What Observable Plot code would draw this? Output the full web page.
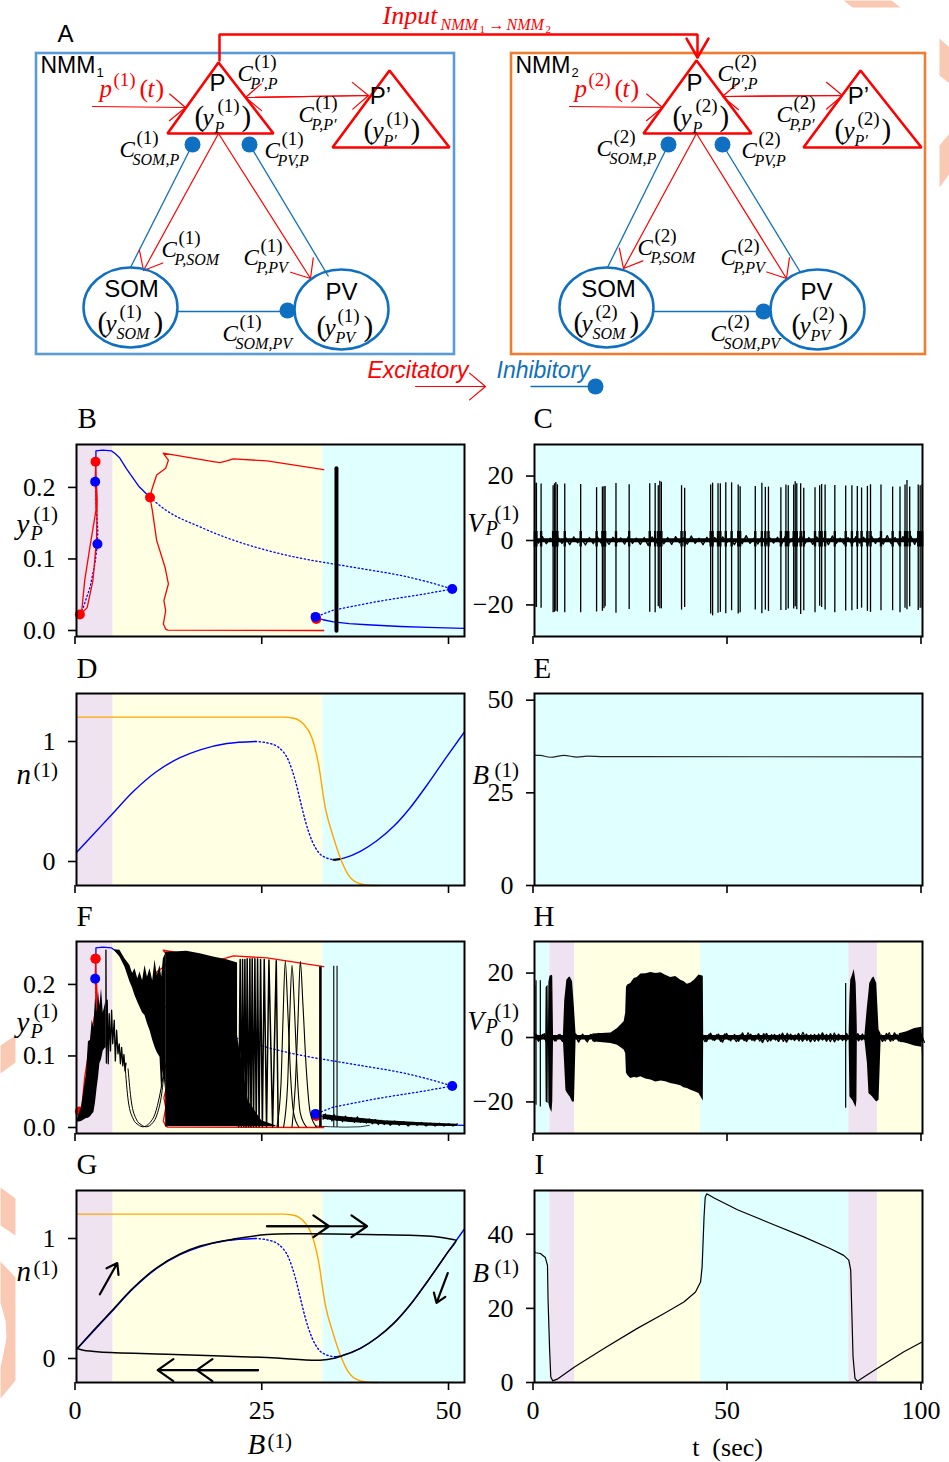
<!DOCTYPE html>
<html>
<head>
<meta charset="utf-8">
<script src="https://cdn.jsdelivr.net/npm/d3@7"></script>
<script src="https://cdn.jsdelivr.net/npm/@observablehq/plot@0.6"></script>
<style>
html,body{margin:0;padding:0;background:#fff}
#root{position:relative;width:949px;height:1462px;overflow:hidden}
#root svg{position:absolute;max-width:none}
</style>
</head>
<body>
<div id="root"></div>
<script>
// ---------- colours
const PURPLE="#efe3f2", YELLOW="#ffffe4", CYAN="#e0ffff", RED="#ff0000", BLUE="#0000ff", ORANGE="#ffa500", DBLUE="#0f6fc0", SALMON="#f9c9b3";

// ---------- bifurcation panels (B, F): [B, y]
const regimeBands=[[0,4.9,PURPLE],[4.9,33,YELLOW],[33,51.94,CYAN]];
const timeBands=[[0,3.95,CYAN],[3.95,10.4,PURPLE],[10.4,42.8,YELLOW],[42.8,81,CYAN],[81,88.4,PURPLE],[88.4,100,YELLOW]];
const yStableHigh=[[2.5,.208],[2.6,.24],[2.6,.251],[3.5,.252],[4.7,.251],[5.2,.247],[5.8,.241],[6.7,.226],[8.3,.202],[9.84,.186]];
const yUnstableHigh=[[9.84,.186],[12,.168],[16.5,.145],[20,.13],[25.5,.112],[30,.101],[34.4,.093],[39,.085],[43.4,.077],[47,.068],[50.3,.058]];
const yUnstableLow=[[50.3,.058],[46,.05],[41.1,.042],[37,.034],[34.4,.0286],[32,.019]];
const yStableLow=[[32,.019],[33,.015],[34.4,.012],[36.5,.0095],[38.9,.008],[43.4,.0056],[47,.0043],[51.9,.003]];
const yUnstableLeft=[[.45,.0225],[.9,.032],[1.8,.06],[2.46,.093],[2.8,.121],[2.85,.14],[2.7,.163],[2.5,.208]];
const yCycleSmall=[[.45,.0225],[.67,.024],[1.1,.07],[1.8,.117],[2.6,.168],[2.55,.236],[2.77,.182],[2.68,.126],[2.2,.07],[1.43,.032],[.67,.024]];
const yCycleLarge=[[33.1,.225],[25.5,.237],[21,.24],[20.1,.237],[19.2,.2346],[18.3,.236],[11.6,.248],[12.3,.238],[11.94,.2267],[10.73,.2173],[10.06,.196],[9.84,.186],[10.15,.168],[10.73,.126],[11.85,.0885],[12.3,.065],[11.7,.0417],[11.94,.0276],[11.63,.009],[11.94,.002],[12.2,.0005],[33.1,0]];
const redPoints=[[.45,.0225],[2.55,.236],[9.84,.186],[32.1,.016]];
const bluePoints=[[2.5,.208],[2.8,.121],[50.3,.058],[32,.019]];
const singleBar=[[34.8,-.0005,.2267]];

// ---------- trajectory in F
const fRampBand=[[.13,.0075,.0117],[.67,.0085,.028],[1.34,.0125,.075],[1.6,.013,.12],[1.88,.015,.122],[2.1,.018,.15],[2.33,.021,.14],[2.55,.035,.182],[2.77,.056,.16],[2.95,.07,.19],[3.13,.089,.17],[3.35,.095,.194],[3.58,.107,.16],[3.94,.112,.176]];
const fRampDecay=[[3.94,.112],[3.94,.248],[4.0,.09],[4.11,.178],[4.25,.089],[4.38,.159],[4.55,.107],[4.7,.164],[4.85,.117],[5.05,.15],[5.2,.093],[5.37,.136],[5.55,.103],[5.72,.117],[5.88,.089],[6.04,.112],[6.2,.086],[6.35,.102],[6.5,.079],[6.62,.09]];
const fLoopA=[[6.48,.089],[6.93,.037],[7.6,.0117],[8.27,.0037],[8.94,.001],[9.84,.007],[10.5,.0187],[11.18,.047],[11.7,.079]];
const fLoopB=[[6.9,.082],[7.33,.037],[8,.0117],[8.67,.0037],[9.34,.001],[10.24,.007],[10.8,.0187],[11.4,.047],[11.85,.09]];
const fUpperBand=[[5.14,.2467,.2486],[5.81,.2383,.2477],[6.48,.2243,.236],[7.16,.2033,.2266],[7.5,.195,.215],[7.83,.1846,.222],[8.2,.175,.208],[8.5,.1682,.2173],[8.85,.16,.205],[9.17,.1565,.2266],[9.5,.145,.21],[9.84,.1355,.222],[10.2,.122,.205],[10.51,.1121,.2346],[10.8,.105,.212],[11.18,.0981,.2266],[11.4,.05,.21],[11.63,.0794,.236],[11.94,.0514,.243]];
const fMainBand=[[11.94,.001,.2453],[12.97,.001,.2453],[14.76,.001,.2463],[16.55,.001,.243],[18.34,.001,.2383],[20.13,.001,.2346],[21.56,.001,.23]];
const fWedge=[[21.5,.001,.131],[23,.001,.037],[24.8,.001,.0093],[26.7,.001,.0023]];
const fStripes=[[21.7,.001],[21.91,.235],[22.07,.001],[22.23,.235],[22.38,.001],[22.54,.235],[22.7,.001],[22.85,.236],[23.03,.001],[23.21,.236],[23.36,.001],[23.52,.236],[23.7,.001],[23.88,.236],[24.06,.001],[24.24,.236],[24.44,.001],[24.64,.235],[24.88,.001],[25.13,.235],[25.44,.001],[25.76,.234],[26.25,.001],[26.74,.233],[27,.001]];
const fArch1=[[26.83,.001],[27.37,.06],[27.64,.15],[27.95,.2327],[28.26,.17],[28.62,.08],[29.07,.02],[29.74,.001]];
const fArch2=[[27.73,.001],[28.26,.06],[28.53,.15],[28.85,.2266],[29.16,.17],[29.52,.08],[29.96,.02],[30.77,.001]];
const fArch3=[[28.85,.001],[29.3,.06],[29.65,.15],[29.96,.2322],[30.32,.17],[30.77,.08],[31.3,.02],[32.1,.001]];
const fThickSpikes=[[32.65,.001,.2252]];
const fThinSpikes=[[34.44,.001,.226],[34.88,.001,.226]];
const fTailBand=[[33,.0115,.018],[34.44,.0093,.0164],[36.67,.007,.014],[38.9,.0056,.0117],[41.14,.0037,.0093],[43.38,.0028,.0084],[45.6,.0023,.007],[47.85,.0019,.0061],[51,.0014,.0047]];
const fTail=[[33,.0115],[33.3,.019],[33.6,.012],[33.9,.017],[34.2,.009],[34.5,.018],[34.8,.01],[35.2,.015],[35.6,.008],[36,.016],[36.4,.009],[36.8,.014],[37.2,.007],[37.6,.015],[38,.007],[38.4,.012],[38.8,.006],[39.2,.012],[39.6,.005],[40,.011],[40.4,.004],[40.8,.01],[41.2,.004],[41.6,.009],[42,.003],[42.6,.009],[43.2,.003],[43.8,.008],[44.4,.002],[45,.007],[45.6,.003],[46.2,.007],[46.8,.002],[47.4,.006],[48,.002],[48.6,.006],[49.2,.002],[49.8,.005],[50.4,.002],[51,.005]];
const fTailFoot=[[32,.002],[34,.001],[36,.0005],[38,.001],[39.2,.003]];

// ---------- n-nullcline panels (D, G): [B, n]
const nOrange=[[0,1.203],[27.7,1.203],[29.07,1.194],[30.4,1.144],[31.5,1.033],[32.4,.811],[33.3,.45],[34.4,.2],[35.3,.033],[36.2,-.092],[37.3,-.167],[38.9,-.197],[40.2,-.2]];
const nStableLeft=[[0,.075],[2.24,.225],[4.7,.39],[7.6,.583],[10.73,.75],[13.86,.865],[16.55,.93],[20.13,.983],[23.93,1]];
const nUnstable=[[23.93,1],[25.5,.989],[27.06,.95],[28.4,.839],[29.3,.672],[29.96,.506],[30.63,.339],[31.53,.172],[32.42,.075],[33.54,.028],[34.66,.014]];
const nStableRight=[[34.66,.014],[35.78,.028],[38,.085],[40.25,.175],[42.5,.295],[44.7,.45],[47,.644],[49.64,.88],[51.88,1.075]];
const nSingleMark=[[34.4,.014],[35.2,.018]];
const gLoop=[[.09,.083],[2.24,.232],[4.7,.396],[7.6,.589],[10.73,.756],[13.86,.871],[16.55,.938],[21,.995],[25.5,1.033],[30,1.039],[38.9,1.033],[47.9,1.017],[50.4,.992],[50.8,.985],[49.64,.88],[47,.644],[44.7,.45],[42.5,.295],[40.25,.175],[38,.085],[35.78,.028],[34.66,.005],[32.6,-.014],[25.5,.008],[12.1,.036],[3.13,.055],[.9,.069],[.09,.083]];
const gArrows=[[3.13,.535,5.46,.795],[25.5,1.102,33.8,1.102],[25.5,1.102,38.9,1.102],[49.7,.712,48.2,.463],[24.3,-.097,16.1,-.097],[24.3,-.097,10.87,-.097]];

// ---------- panel C
const cSpikeT=[.1,.5,1.7,4.8,5.15,5.5,5.9,7.8,11.9,16,17.5,17.9,18.2,21,24.4,29.7,31.1,31.9,32.3,32.7,37.9,38.7,45.4,45.9,47.3,47.9,49.3,50.8,52.5,53,56.9,58.6,59.5,60.3,63.5,64.8,65.4,66.8,67.2,67.6,68.6,69.4,72.3,73.5,74,74.9,77.4,80.2,81.8,83.2,84.3,85.8,86.6,89.3,92.3,94.2,95.5,96,96.7,98.9,99.4,99.9];
const cSpikeTop=[17.8,17.8,17.5,17,17.6,18,17.3,17.5,17.4,16.4,16.6,16.7,16.8,17.7,17.3,17.6,17.7,17,18.4,18.1,17,16.2,17.2,17.8,17.6,17.6,17.9,17.9,17.2,16.7,16.8,17.8,16.5,16.6,16.4,17.2,17,17.2,18.2,17.6,17.6,16.2,16.4,17,17.4,17.2,17.1,16.9,17,16.8,16.3,16.8,17.3,17.2,16.6,16.6,17.2,18.6,16.6,17.2,17,17.4];
const cSpikeBot=[-20.8,-20.8,-21,-22.4,-22.3,-22,-22.2,-22.4,-22.4,-22.2,-22,-21.2,-20.6,-22.6,-21.4,-22.3,-22.4,-20.6,-21.2,-21.2,-21.6,-20.8,-22.8,-23.4,-22.6,-22.3,-22.7,-21.8,-22.8,-22.4,-21.6,-22.7,-21.6,-22,-21.7,-21.7,-21.3,-21.3,-20.6,-21.5,-23,-21.8,-22.4,-20.4,-20.8,-21.6,-22.4,-21.9,-21.8,-21.4,-21,-22,-22.3,-21.8,-21.8,-22.4,-21,-21.5,-20.6,-21.7,-21,-21.2];
const cNoise=[.9,-.8,1.2,-1,.7,-1.1,1,-.9,.8,-1.3,1.1,-.7,.6,-1.4,.9,-1,1.2,-.8,.7,-1.2,1,-.6,.8,-1.1,1.3,-.9,.7,-1.2,.9,-1.5,1.1,-.8,.6,-1,.9,-1.2,1.2,-.7,.8,-1.1,1.4,-.9,.7,-1.3,1,-.8,.9,-1.2,1.1,-.7,.6,-1.3,.8,-1,1.5,-.9,.7,-1.1,1.2,-1.3,.9,-.8,1,-1.2,1.3,-.7,.8,-1.1,1.6,-1,.9,-1.2,1.1,-.8,1,-1.3,1.4,-.9,.7,-1.1,.9,-1.2,1.2,-.8,1,-1.4,1.3,-.9,.8,-1.1,1.5,-1,.9,-1.3,1.2,-.8,1.4,-1.2,1.6,-1.5];

// ---------- panel E
const eTrace=[[0,35.2],[1.5,35.1],[4.1,34.6],[7.6,35.1],[11,34.65],[13.6,34.9],[17.9,34.75],[25,34.75],[100,34.72]];

// ---------- panel H
const hSpikes=[[.1,16,-1],[.4,17.6,-21],[1.5,17.6,-21.6],[80.2,16.8,-22]];
const hNoise=[1.2,-1.1,.9,-1.3,1.4,-1,.8,-1.2,1.1,-.9,1.3,-1.4,1,-1,.9,-1.2,1.2,-.9,.8,-1.1,1.1,-1.3,1.4,-1,.9,-1.2,1.3,-1.1,.8,-1,1.2,-1.4,1.5,-1,1,-1.2,.9,-1.3,1.2,-1,1.1,-1.1,.8,-1.2,1.3,-.9,1,-1.4,1.2,-1,.9,-1.1,1.4,-1.2,1,-1,1.1,-1.5,1.2,-1,.9,-1.2,1.3,-1.4,1,-.9,1.2,-1.1,1,-1.3,.9,-1,1.4,-1.1,1.1,-1.3,1,-.9,1.2,-1.2,1.3,-1,1,-1.4,1.1,-1,.9,-1.2,1.2,-1.1,1.4,-1,1.1,-1.3,1.2,-1.1,1.5,-1.4];
const hBlobA=[[2.9,1,-1],[3,15.5,-20],[3.5,16.2,-20.5],[3.6,1.5,-1.5],[3.7,17,-20.5],[4,19,-22],[4.5,19.3,-23.3],[4.7,19,-20],[4.9,1,-1]];
const hBlobB=[[7.47,1.2,-1.3],[7.8,11.6,-9],[8.1,15,-16.4],[8.33,17.8,-17],[8.9,18.6,-18],[9.2,18.8,-18.5],[9.8,17.3,-20],[10.3,9,-20],[10.7,1.2,-1.5]];
const hBurst=[[15,1.1,-1.3],[19.7,1.4,-1.9],[21.4,2.8,-2.4],[23.1,4.9,-3.9],[23.5,7.5,-5],[23.7,15.5,-11],[24,16.3,-11.7],[24.8,16.8,-12.7],[25.7,18.3,-12.4],[26.5,18.6,-12.6],[27.4,19.7,-12.2],[28.7,19.8,-12.9],[30,20.2,-13.2],[31.3,19.9,-13.8],[32.6,20.1,-13.5],[33.8,19.3,-13.7],[35.1,18.6,-14.3],[36.4,18.9,-14.6],[37.7,17.8,-15],[38.5,17.4,-15.6],[39.4,16.5,-15.8],[40.3,16.9,-16.4],[41.2,17.8,-16.8],[42.4,19.4,-17.4],[43.5,19,-19.7],[43.6,1.4,-.8]];
const hBlobC=[[81.1,1.2,-1.8],[81.3,12,-18.4],[81.5,17.8,-18.8],[82,19.5,-19.5],[82.4,21.1,-20.5],[82.9,16.8,-21.7],[83.1,8,-19.5],[83.2,2.3,-1.8]];
const hBlobD=[[85.2,1.2,-1.3],[85.8,9.5,-8],[86.2,14,-17.4],[86.4,16.8,-17.6],[87.1,18.4,-18.4],[87.5,18.8,-19],[88.2,16.8,-20],[88.8,2.3,-19.5],[89.3,1.2,-1.9]];
const hEnd=[[94,1.2,-1.3],[96,1.8,-1.9],[98,2.8,-2.6],[99.8,3.2,-3],[99.9,3.2,-6]];

// ---------- panel I
const iTrace=[[0,35.3],[.25,35],[1.5,34.8],[2.8,33.7],[3.35,31.6],[3.5,22.2],[3.9,8.7],[4.2,1.5],[4.7,.45],[5.85,.9],[10.3,4.2],[17.9,9.2],[26.5,14.6],[33.4,18.6],[38.5,21.7],[41.5,24.4],[42.8,27.1],[43.2,31.2],[43.7,44.7],[44,50],[44.4,50.9],[46.3,49.8],[52.3,46.6],[60.9,42.9],[69.4,39.3],[76.3,36.1],[79.7,34.3],[81,33],[81.5,30.3],[81.7,22.2],[82.1,6.9],[82.6,1.1],[83.2,.36],[88.3,3.8],[95.2,8.3],[100,11]];

// ---------- ticks
const bTicks=[0,25,50], tTicks=[0,50,100];
const yTicksBF=[0,.1,.2], nTicks=[0,1], vTicks=[-20,0,20], eTicks=[0,25,50], iTicks=[0,20,40];

// ---------- page layers
const root=document.getElementById("root");
const place=(svg,left,top)=>{svg.style.left=left+"px";svg.style.top=top+"px";root.appendChild(svg);};
const pts=(a,o)=>Plot.line(a,{x:"0",y:"1",...o});
const band=(a,o)=>Plot.areaY(a,{x:"0",y1:"1",y2:"2",curve:"linear",...o});

function panel({left,top,xd,yd,bands,xt,yt,yf,xl,marks}){
  const svg=Plot.plot({
    width:466,height:244,marginLeft:76,marginRight:2,marginTop:2,marginBottom:50,
    x:{domain:xd},y:{domain:yd},color:{type:"identity"},
    style:{background:"transparent",overflow:"visible",fontFamily:"'Liberation Serif',serif",color:"#000"},
    marks:[
      Plot.rect(bands,{x1:"0",x2:"1",y1:()=>yd[0],y2:()=>yd[1],fill:"2"}),
      ...marks,
      Plot.axisX({ticks:xt,tickSize:8,tickPadding:10,strokeWidth:1.6,fontSize:26,label:null,dx:-1.5,tickFormat:xl?(d=>String(d)):(()=>"")}),
      Plot.axisY({ticks:yt,tickSize:8,tickPadding:13,strokeWidth:1.6,fontSize:26,label:null,tickFormat:yf}),
      Plot.frame({stroke:"#000",strokeWidth:2})
    ]});
  place(svg,left,top-2);
}
const minus=d=>d<0?"\u2212"+Math.abs(d):String(d);
const oneDec=d3.format(".1f");
const L=0,R=458;
const T=[444,693,941,1190];
const xB=[0,51.94],xT=[0,100],yY=[-.0084,.26],yN=[-.2,1.4],yV=[-29.8,29.8],yB=[0,51.8];

const bifBase=[
  pts(yUnstableHigh,{stroke:BLUE,strokeWidth:1.3,strokeDasharray:"1.3,2.6",curve:"monotone-x"}),
  pts(yUnstableLow,{stroke:BLUE,strokeWidth:1.3,strokeDasharray:"1.3,2.6"}),
  pts(yUnstableLeft,{stroke:BLUE,strokeWidth:1.3,strokeDasharray:"1.3,2.6"}),
  pts(yStableHigh,{stroke:BLUE,strokeWidth:1.3}),
  pts(yStableLow,{stroke:BLUE,strokeWidth:1.3}),
  pts(yCycleSmall,{stroke:RED,strokeWidth:1.3}),
  pts(yCycleLarge,{stroke:RED,strokeWidth:1.3})
];
const nBase=[
  pts(nStableLeft,{stroke:BLUE,strokeWidth:1.4,curve:"monotone-x"}),
  pts(nUnstable,{stroke:BLUE,strokeWidth:1.4,strokeDasharray:"1.3,2.6",curve:"monotone-x"}),
  pts(nStableRight,{stroke:BLUE,strokeWidth:1.4,curve:"monotone-x"}),
  pts(nOrange,{stroke:ORANGE,strokeWidth:1.4,curve:"monotone-x"})
];

// B
panel({left:L,top:T[0],xd:xB,yd:yY,bands:regimeBands,xt:bTicks,yt:yTicksBF,yf:oneDec,xl:false,marks:[
  ...bifBase,
  Plot.dot(redPoints,{x:"0",y:"1",r:5,fill:RED}),
  Plot.dot(bluePoints,{x:"0",y:"1",r:5,fill:BLUE}),
  Plot.link(singleBar,{x1:"0",x2:"0",y1:"1",y2:"2",stroke:"#000",strokeWidth:4,strokeLinecap:"round"})
]});
// C
panel({left:R,top:T[0],xd:xT,yd:yV,bands:[[0,100,CYAN]],xt:tTicks,yt:vTicks,yf:minus,xl:false,marks:[
  Plot.ruleY([.1],{stroke:"#000",strokeWidth:4}),
  Plot.line(cNoise,{x:(d,i)=>i*100/(cNoise.length-1),y:d=>d,stroke:"#000",strokeWidth:1.4}),
  Plot.ruleX(cSpikeT,{x:d=>d,y1:(d,i)=>cSpikeBot[i],y2:(d,i)=>cSpikeTop[i],stroke:"#000",strokeWidth:1.3}),
  Plot.ruleX(cSpikeT,{x:d=>d,y1:()=>-2,y2:()=>2.8,stroke:"#000",strokeWidth:2.4})
]});
// D
panel({left:L,top:T[1],xd:xB,yd:yN,bands:regimeBands,xt:bTicks,yt:nTicks,yf:minus,xl:false,marks:[
  ...nBase,
  pts(nSingleMark,{stroke:"#000",strokeWidth:2})
]});
// E
panel({left:R,top:T[1],xd:xT,yd:yB,bands:[[0,100,CYAN]],xt:tTicks,yt:eTicks,yf:minus,xl:false,marks:[
  pts(eTrace,{stroke:"#222",strokeWidth:1.2,curve:"monotone-x"})
]});
// F
panel({left:L,top:T[2],xd:xB,yd:yY,bands:regimeBands,xt:bTicks,yt:yTicksBF,yf:oneDec,xl:false,marks:[
  ...bifBase,
  Plot.dot(redPoints,{x:"0",y:"1",r:5,fill:RED}),
  Plot.dot([bluePoints[3]],{x:"0",y:"1",r:5,fill:BLUE}),
  band(fRampBand,{fill:"#000"}),
  pts(fRampDecay,{stroke:"#000",strokeWidth:1.3}),
  pts(fLoopA,{stroke:"#000",strokeWidth:1,curve:"monotone-x"}),
  pts(fLoopB,{stroke:"#000",strokeWidth:1,curve:"monotone-x"}),
  band(fUpperBand,{fill:"#000"}),
  band(fMainBand,{fill:"#000"}),
  band(fWedge,{fill:"#000"}),
  pts(fStripes,{stroke:"#000",strokeWidth:1.5}),
  pts(fArch1,{stroke:"#000",strokeWidth:1.1,curve:"monotone-x"}),
  pts(fArch2,{stroke:"#000",strokeWidth:1.1,curve:"monotone-x"}),
  pts(fArch3,{stroke:"#000",strokeWidth:1.1,curve:"monotone-x"}),
  Plot.link(fThickSpikes,{x1:"0",x2:"0",y1:"1",y2:"2",stroke:"#000",strokeWidth:2.6}),
  Plot.link(fThinSpikes,{x1:"0",x2:"0",y1:"1",y2:"2",stroke:"#000",strokeWidth:1.1}),
  pts(fTailFoot,{stroke:"#000",strokeWidth:.8}),
  band(fTailBand,{fill:"#000"}),
  pts(fTail,{stroke:"#000",strokeWidth:1.2}),
  Plot.dot([redPoints[1]],{x:"0",y:"1",r:5,fill:RED}),
  Plot.dot([bluePoints[0],bluePoints[2]],{x:"0",y:"1",r:5,fill:BLUE})
]});
// H
panel({left:R,top:T[2],xd:xT,yd:yV,bands:timeBands,xt:tTicks,yt:vTicks,yf:minus,xl:false,marks:[
  Plot.ruleY([.1],{stroke:"#000",strokeWidth:4.5}),
  Plot.line(hNoise,{x:(d,i)=>i*100/(hNoise.length-1),y:d=>d,stroke:"#000",strokeWidth:1.6}),
  Plot.line(cNoise,{x:(d,i)=>.5+i*100/(cNoise.length-1),y:d=>d,stroke:"#000",strokeWidth:1.2}),
  Plot.ruleX(hSpikes,{x:"0",y1:"2",y2:"1",stroke:"#000",strokeWidth:1.2}),
  band(hBlobA,{fill:"#000"}),band(hBlobB,{fill:"#000"}),band(hBurst,{fill:"#000"}),
  band(hBlobC,{fill:"#000"}),band(hBlobD,{fill:"#000"}),band(hEnd,{fill:"#000"})
]});
// G
panel({left:L,top:T[3],xd:xB,yd:yN,bands:regimeBands,xt:bTicks,yt:nTicks,yf:minus,xl:true,marks:[
  ...nBase,
  pts(gLoop,{stroke:"#000",strokeWidth:1.5,curve:"catmull-rom"}),
  Plot.arrow(gArrows,{x1:"0",y1:"1",x2:"2",y2:"3",stroke:"#000",strokeWidth:2.2,headLength:13,headAngle:70})
]});
// I
panel({left:R,top:T[3],xd:xT,yd:yB,bands:timeBands,xt:tTicks,yt:iTicks,yf:minus,xl:true,marks:[
  pts(iTrace,{stroke:"#000",strokeWidth:1.2})
]});

// ---------- schematic (panel A), salmon watermark and all free text
const watermark=[
 ["a",[[843,0],[852,7],[900,7],[891,0]]],
 ["b",[[939,38],[949,47],[949,83],[939,75]]],
 ["c",[[939,145],[949,133],[949,173],[939,187]]],
 ["d",[[15,1035],[0,1045],[0,1073],[15,1062]]],
 ["e",[[0,1187],[15,1198],[15,1235],[0,1225]]],
 ["f",[[0,1261],[15,1277],[15,1380],[0,1398],[0,1367],[3,1353],[6,1337],[5,1320],[0,1302]]]
].flatMap(([id,p])=>p.map(([x,y])=>({id,x,y})));

const boxes=[[36,53,454,354,"#5b9bd5"],[511,53,925,354,"#ed7d31"]];
const triangles=[
 ["p1",[[218,62],[167,133],[273,133]]],["q1",[[389,70],[332,147],[449,147]]],
 ["p2",[[696,60],[643,133],[751,133]]],["q2",[[860,70],[803,147],[921,147]]]
].flatMap(([id,p])=>p.map(([x,y])=>({id,x,y})));
const cells=[[130,307],[341,309],[606,307],[817,309]];
const blueLinks=[[130,267,192,144],[328,276,249,144],[177,311,287,311],[607,267,668,144],[800,272,722,144],[653,311,763,311],[530,386,595,386]];
const blueDots=[[192,144],[249,144],[287,310],[668,144],[722,144],[763,311],[595,386]];
const redArrows=[[218,133,143,270],[218,133,310,278],[92,106,185,107],[245,97,368,95],[368,95,245,97],
 [696,133,623,268],[696,133,786,278],[569,106,662,107],[722,96,842,95],[842,95,722,96],[415,386,485,386]];
const inputWire=[["w",[[219,60],[219,34],[697,34],[697,57]]],["h",[[686,38],[697,57],[708,38]]]].flatMap(([id,p])=>p.map(([x,y])=>({id,x,y})));

const rows=[];
const add=(x,y,text,size,kind="serif",fill="#000",anchor="start")=>rows.push({x,y,text,size,kind,fill,anchor});
// coupling labels
const coupling=[
 [238,80,"P\u2032,P",1],[299,121,"P,P\u2032",1],[120,156,"SOM,P",1],[265,157,"PV,P",1],[162,256,"P,SOM",1],[244,264,"P,PV",1],[223,340,"SOM,PV",1],
 [718,80,"P\u2032,P",2],[777,121,"P,P\u2032",2],[597,155,"SOM,P",2],[742,157,"PV,P",2],[638,254,"P,SOM",2],[721,264,"P,PV",2],[711,340,"SOM,PV",2]];
coupling.forEach(([x,y,s,n])=>{add(x-1,y,"C",23,"ital");add(x+16,y-13,`(${n})`,19);add(x+12,y+8,s,16,"ital");});
// node labels
const nodes=[
 [217,90,"P",194,125,"P",8,20,23,47,1],[380,103,"P\u2019",363,138,"P\u2032",9,20,23,47,1],[131,296,"SOM",97,331,"SOM",8,19,22,56,1],[341,299,"PV",316,335,"PV",8,19,21,47,1],
 [694,90,"P",672,125,"P",8,20,23,47,2],[858,103,"P\u2019",834,138,"P\u2032",9,20,23,47,2],[608,296,"SOM",573,331,"SOM",8,19,22,56,2],[816,299,"PV",791,333,"PV",8,19,21,47,2]];
nodes.forEach(([cx,cy,name,px,py,s,dy,ds,dp,dc,n])=>{
  add(cx,cy,name,24,"sans","#000","middle");
  add(px,py,"(",29);add(px+dy,py,"y",25,"ital");add(px+ds,py+7,s,16,"ital");add(px+dp,py-14,`(${n})`,19);add(px+dc,py,")",29);
});
// drive labels
[[99,96,1],[574,96,2]].forEach(([x,y,n])=>{add(x,y,"p",25,"ital",RED);add(x+14,y-11,`(${n})`,19,"serif",RED);add(x+40,y,"(",26,"serif",RED);add(x+48,y,"t",25,"ital",RED);add(x+56,y,")",26,"serif",RED);});
add(382,23,"Input",26,"ital",RED);add(440,29,"NMM",16,"ital",RED);add(479,32,"1",11,"serif",RED);add(488,29,"\u2192",16,"serif",RED);add(506,29,"NMM",16,"ital",RED);add(545,32,"2",11,"serif",RED);
// sans labels
add(57,41,"A",24,"sans");add(40,72,"NMM",23,"sans");add(96,76,"1",13,"sans");add(515,72,"NMM",23,"sans");add(571,76,"2",13,"sans");
add(367,377,"Excitatory",23,"sansI",RED);add(496,377,"Inhibitory",23,"sansI",DBLUE);
// panel letters
[["B",77,427],["C",533,427],["D",76,677],["E",533,677],["F",76,925],["H",533,925],["G",76,1173],["I",534,1173]].forEach(([s,x,y])=>add(x,y,s,29));
// axis symbols
const yLab=(x,y,s,sx,sy,sub,subx,suby,size=29)=>{add(x,y,s,size,"ital");add(sx,sy,"(1)",21);if(sub)add(subx,suby,sub,20,"ital");};
yLab(16,533,"y",33,520,"P",30,539);yLab(16,1031,"y",33,1017,"P",30,1037);
yLab(467,531,"V",494,519,"P",485,534,27);yLab(467,1029,"V",494,1017,"P",485,1032,27);
yLab(16,783,"n",33,776);yLab(16,1280,"n",33,1274);
yLab(472,783,"B",494,776,null,0,0,27);yLab(472,1281,"B",494,1273,null,0,0,27);
yLab(247,1453,"B",267,1447);
add(727,1455,"t\u00a0\u00a0(sec)",26,"serif","#000","middle");

const kinds={serif:{fontFamily:"'Liberation Serif',serif"},ital:{fontFamily:"'Liberation Serif',serif",fontStyle:"italic"},sans:{fontFamily:"'Liberation Sans',sans-serif"},sansI:{fontFamily:"'Liberation Sans',sans-serif",fontStyle:"italic"}};
const textMarks=[];
for(const k of Object.keys(kinds))for(const a of ["start","middle"]){
  const r=rows.filter(d=>d.kind===k&&d.anchor===a);
  if(r.length)textMarks.push(Plot.text(r,{x:"x",y:"y",text:"text",fontSize:d=>d.size,fill:"fill",textAnchor:a,lineAnchor:"bottom",...kinds[k]}));
}
const ellipse={draw(c,size){const r=Math.sqrt(size/Math.PI),a=r,b=r*40/47,k=.5523;
  c.moveTo(a,0);c.bezierCurveTo(a,k*b,k*a,b,0,b);c.bezierCurveTo(-k*a,b,-a,k*b,-a,0);c.bezierCurveTo(-a,-k*b,-k*a,-b,0,-b);c.bezierCurveTo(k*a,-b,a,-k*b,a,0);c.closePath();}};

const page={width:949,height:1462,margin:0,x:{domain:[0,949],axis:null},y:{domain:[1462,0],axis:null},color:{type:"identity"},style:{background:"transparent"}};
const under=Plot.plot({...page,marks:[Plot.line(watermark,{x:"x",y:"y",z:"id",curve:"linear-closed",fill:SALMON,stroke:"none"})]});
root.insertBefore(under,root.firstChild);under.style.left="0";under.style.top="0";

const over=Plot.plot({...page,marks:[
  Plot.rect(boxes,{x1:"0",y1:"1",x2:"2",y2:"3",stroke:"4",strokeWidth:2.6,fill:"none"}),
  Plot.line(inputWire,{x:"x",y:"y",z:"id",stroke:RED,strokeWidth:2.5,strokeLinejoin:"miter"}),
  Plot.link(blueLinks,{x1:"0",y1:"1",x2:"2",y2:"3",stroke:DBLUE,strokeWidth:1.3}),
  Plot.arrow(redArrows,{x1:"0",y1:"1",x2:"2",y2:"3",stroke:RED,strokeWidth:1.2,headLength:26,headAngle:80}),
  Plot.line(triangles,{x:"x",y:"y",z:"id",curve:"linear-closed",stroke:RED,strokeWidth:2.6,fill:"none",strokeLinejoin:"miter"}),
  Plot.dot(cells,{x:"0",y:"1",r:47,symbol:ellipse,stroke:DBLUE,strokeWidth:2.5,fill:"none"}),
  Plot.dot(blueDots,{x:"0",y:"1",r:8,fill:DBLUE}),
  ...textMarks
]});
over.style.left="0";over.style.top="0";root.appendChild(over);
</script>
</body>
</html>
